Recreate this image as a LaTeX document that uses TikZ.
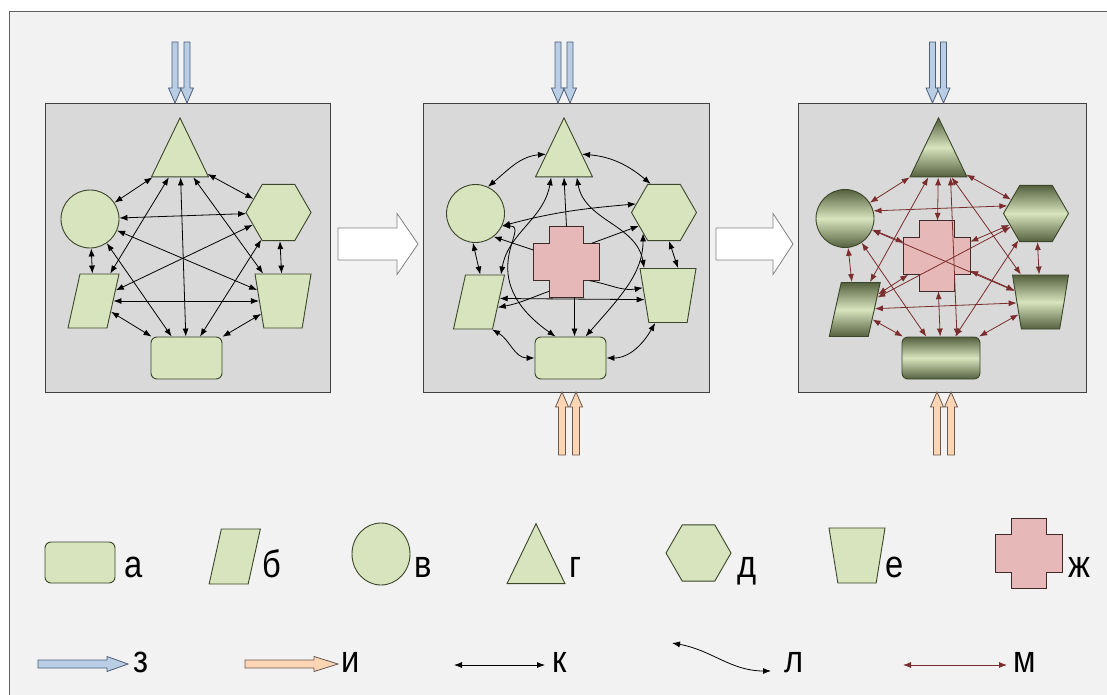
\documentclass[tikz,border=0pt]{standalone}
\usepackage{fontspec}
\setmainfont{Liberation Sans}
\newfontfamily\podfont[FakeStretch=0.86]{Liberation Sans}
\usetikzlibrary{positioning,arrows.meta,shapes.geometric}
\definecolor{FonList}{HTML}{F2F2F2}
\definecolor{FonRamka}{HTML}{5F5F5F}
\definecolor{FonPanel}{HTML}{D9D9D9}
\definecolor{LinPanel}{HTML}{404040}
\definecolor{FigZel}{HTML}{D7E4BD}
\definecolor{FigTemn}{HTML}{55603F}
\definecolor{FigLin}{HTML}{3B4529}
\definecolor{KrRoz}{HTML}{E6B9B8}
\definecolor{KrLin}{HTML}{3F2A2A}
\definecolor{VhSin}{HTML}{B9CDE5}
\definecolor{VhSinLin}{HTML}{4D5E78}
\definecolor{VhOr}{HTML}{FCD5B5}
\definecolor{VhOrLin}{HTML}{6B584C}
\definecolor{SvBord}{HTML}{7B2C2C}

\begin{document}
\begin{tikzpicture}[x=1pt,y=1pt,>={Latex[length=8pt,width=6pt]},
    figura/.style={draw=FigLin,fill=FigZel,line width=0.9pt,inner sep=0pt},
    pryam/.style={figura,rectangle,rounded corners=6pt,minimum width=71pt,minimum height=42pt},
    paral/.style={figura,rectangle,xslant=0.222,transform shape,minimum width=39pt,minimum height=54pt},
    krug/.style={figura,circle,minimum size=58pt},
    treug/.style={figura,isosceles triangle,shape border rotate=90,isosceles triangle stretches=true,minimum width=57pt,minimum height=59pt},
    shest/.style={figura,regular polygon,regular polygon sides=6,minimum size=65pt},
    trap/.style={figura,trapezium,trapezium angle=77,shape border rotate=180,trapezium stretches=true,inner sep=1pt,minimum width=56pt,minimum height=54pt},
    ten/.style={top color=FigTemn,bottom color=FigTemn,middle color=FigZel},
    panel/.style={draw=LinPanel,fill=FonPanel,line width=0.9pt},
    svyaz/.style={<->,line width=0.8pt,black},
    odna/.style={->,line width=0.8pt,black},
    bord/.style={<->,line width=0.8pt,SvBord},
    vhod/.style={draw=VhSinLin,fill=VhSin,line width=0.8pt},
    vyhod/.style={draw=VhOrLin,fill=VhOr,line width=0.8pt},
    perehod/.style={draw=gray,fill=white,line width=0.8pt},
    podpis/.style={font=\podfont\fontsize{38pt}{44pt}\selectfont,inner sep=0pt,anchor=base west},
    pics/strelka/.style n args={5}{code={
      \draw[#5] (0,-#3) -- (#1-#2,-#3) -- (#1-#2,-#4) -- (#1,0) -- (#1-#2,#4) -- (#1-#2,#3) -- (0,#3) -- cycle;}},
    pics/krest/.style={code={
      \node[inner sep=0pt,minimum width=66pt,minimum height=37pt] (-h) {};
      \node[inner sep=0pt,minimum width=34pt,minimum height=70pt] (-v) {};
      \draw[draw=KrLin,fill=KrRoz,line width=0.9pt] (-v.north west) -- (-v.north east) |- (-h.north east)
        -- (-h.south east) -| (-v.south east) -- (-v.south west) |- (-h.south west)
        -- (-h.north west) -| (-v.north west) -- cycle;}}]
  \useasboundingbox (0,0) rectangle (1107,-695);
  \clip (0,0) rectangle (1107,-695);
  \fill[white] (0,0) rectangle (1107,-695);
  \draw[draw=FonRamka,fill=FonList,line width=1pt] (9,-12) rectangle (1125,-715);

  % panel 1
  \draw[panel] (45,-103) rectangle (330,-392);
  \node[treug] (T1) at (180,-159) {};
  \node[krug]  (C1) at (90,-219) {};
  \node[shest] (H1) at (278.5,-212.5) {};
  \node[paral] (P1) at (93.5,-301) {};
  \node[trap]  (Z1) at (283,-301) {};
  \node[pryam] (R1) at (186.5,-358) {};
  \foreach \a/\b in {T1/C1,T1/H1,T1/P1,T1/Z1,T1/R1,C1/H1,C1/P1,C1/Z1,C1/R1,H1/P1,H1/Z1,H1/R1,P1/Z1,P1/R1,Z1/R1}
    \draw[svyaz] (\a) -- (\b);
  \pic[rotate=-90] at (175,-42) {strelka={61}{15}{3}{6.5}{vhod}};
  \pic[rotate=-90] at (187,-42) {strelka={61}{15}{3}{6.5}{vhod}};

  \pic at (338,-244) {strelka={80}{21}{16}{30.5}{perehod}};

  % panel 2
  \draw[panel] (423,-103) rectangle (709,-392);
  \pic (X2) at (566.5,-262) {krest};
  \node[treug] (T2) at (564,-159) {};
  \node[krug]  (C2) at (475.5,-213.5) {};
  \node[shest] (H2) at (664,-212.5) {};
  \node[paral] (P2) at (479,-302) {};
  \node[trap]  (Z2) at (668,-295.5) {};
  \node[pryam] (R2) at (570.5,-358) {};
  \draw[svyaz] (T2.165) to[out=185,in=40] (C2.65);
  \draw[svyaz] (T2.15) to[out=-5,in=140] (H2.115);
  \draw[svyaz] (C2.-95) -- (P2.100);
  \draw[svyaz] (H2.-80) -- (Z2.70);
  \draw[svyaz] (P2.-55) to[out=-30,in=180] (R2.west);
  \draw[svyaz] (Z2.-115) to[out=-120,in=0] (R2.east);
  \draw[svyaz] (P2.10) -- (Z2.190);
  \draw[svyaz] (C2.-25) to[out=15,in=185] (H2.163);
  \draw[svyaz] (C2.-25) .. controls +(30,0) and +(-85,60) .. (R2.125);
  \draw[svyaz] (H2.-135) .. controls +(0,-40) and +(35,40) .. (R2.55);
  \draw[svyaz] (T2.-125) to[out=-100,in=80] (P2.60);
  \draw[svyaz] (T2.-55) to[out=-80,in=100] (Z2.131);
  \draw[odna] (X2-v.north) -- (T2.south);
  \draw[odna] ([xshift=8pt]X2-v.south) -- ([xshift=4pt]R2.north);
  \draw[odna] ([yshift=12pt]X2-h.west) -- (C2.-52);
  \draw[odna] ([xshift=-8pt]X2-h.north east) -- (H2.-152);
  \draw[odna] ([yshift=6pt]X2-v.south west) to[out=-160,in=10] (P2.-15);
  \draw[odna] ([xshift=-10pt]X2-h.south east) to[out=-10,in=190] (Z2.163);
  \pic[rotate=-90] at (558,-42) {strelka={61}{15}{3}{6.5}{vhod}};
  \pic[rotate=-90] at (570,-42) {strelka={61}{15}{3}{6.5}{vhod}};
  \pic[rotate=90] at (562,-455) {strelka={63}{15}{3.5}{6.5}{vyhod}};
  \pic[rotate=90] at (576,-455) {strelka={63}{15}{3.5}{6.5}{vyhod}};

  \pic at (716,-244) {strelka={77}{20}{16}{30.5}{perehod}};

  % panel 3
  \draw[panel] (798,-103) rectangle (1086,-392);
  \pic (X3) at (937,-256) {krest};
  \node[treug,ten] (T3) at (938.5,-159) {};
  \node[krug,ten]  (C3) at (845,-218.5) {};
  \node[shest,ten] (H3) at (1036,-213.5) {};
  \node[paral,ten] (P3) at (854.75,-309.5) {};
  \node[trap,ten]  (Z3) at (1040.5,-302) {};
  \node[pryam,ten,minimum width=78pt] (R3) at (941,-358) {};
  \foreach \a/\b in {T3/C3,T3/H3,T3/P3,T3/Z3,T3/X3-v,C3/X3-h,C3/P3,C3/Z3,C3/R3,H3/X3-h,H3/P3,H3/R3,H3/Z3,X3-h/P3,X3-h/Z3,X3-v/R3,P3/Z3,P3/R3,Z3/R3}
    \draw[bord] (\a) -- (\b);
  \draw[bord] (C3.15) -- (H3.165);
  \draw[bord] ([xshift=12pt]T3.south) -- ([xshift=16pt]R3.north);
  \pic[rotate=-90] at (932.5,-42) {strelka={61}{15}{3}{6.5}{vhod}};
  \pic[rotate=-90] at (943.5,-42) {strelka={61}{15}{3}{6.5}{vhod}};
  \pic[rotate=90] at (937,-455) {strelka={63}{15}{3.5}{6.5}{vyhod}};
  \pic[rotate=90] at (951,-455) {strelka={63}{15}{3.5}{6.5}{vyhod}};

  % legend
  \node[pryam,minimum width=70pt,minimum height=41pt] (Lr) at (80,-562.5) {};
  \node[podpis] (La) at (124,-577) {а};
  \node[paral,minimum height=55pt] (Lp) at (234.75,-556.5) {};
  \node[podpis] (Lb) at (262,-577) {б};
  \node[figura,ellipse,minimum width=58pt,minimum height=62pt] (Lc) at (381,-554) {};
  \node[podpis] (Lv) at (414,-577) {в};
  \node[treug,minimum width=58pt,minimum height=60pt] (Lt) at (536,-565.5) {};
  \node[podpis] (Lg) at (569,-577) {г};
  \node[shest] (Lh) at (698.5,-553) {};
  \node[podpis] (Ld) at (737,-577) {д};
  \node[trap,minimum height=55pt] (Lz) at (857,-555.5) {};
  \node[podpis] (Le) at (885,-577) {е};
  \pic (Lx) at (1029,-553.5) {krest};
  \node[podpis] (Lzh) at (1068,-577) {ж};

  \pic at (38,-664) {strelka={90}{21}{4}{7.5}{vhod}};
  \node[podpis] (Lze) at (133,-672) {з};
  \pic at (245,-664) {strelka={93}{24}{4}{7.5}{vyhod}};
  \node[podpis] (Li) at (341,-672) {и};
  \coordinate (k1) at (454,-665);
  \coordinate (k2) at (545,-665);
  \draw[svyaz] (k1) -- (k2);
  \node[podpis] (Lk) at (552,-672) {к};
  \coordinate (l1) at (672,-643);
  \coordinate (l2) at (771,-671);
  \draw[svyaz] (l1) to[out=-10,in=180] (l2);
  \node[podpis] (Ll) at (784,-672) {л};
  \coordinate (m1) at (903,-665);
  \coordinate (m2) at (1007,-665);
  \draw[bord] (m1) -- (m2);
  \node[podpis] (Lm) at (1013,-672) {м};
\end{tikzpicture}
\end{document}
